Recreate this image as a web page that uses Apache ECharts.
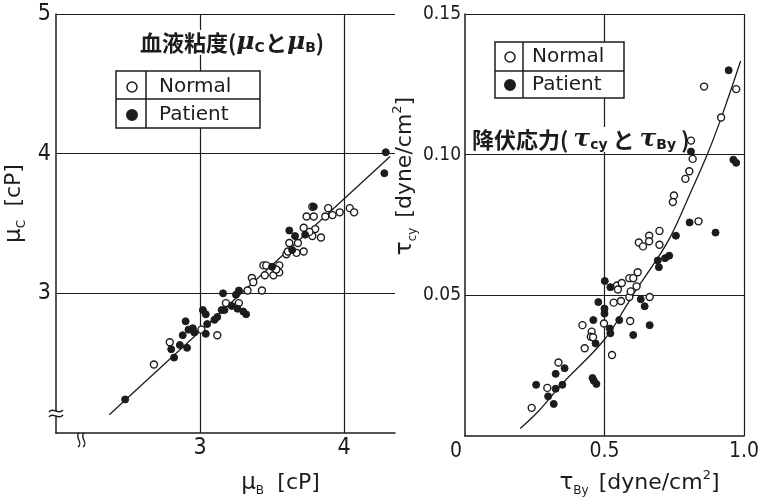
<!DOCTYPE html>
<html><head><meta charset="utf-8">
<script src="https://cdn.jsdelivr.net/npm/echarts@6/dist/echarts.min.js"></script>
<style>html,body{margin:0;padding:0;background:#fff}#c{width:762px;height:502px}</style>
</head><body><div id="c"></div>
<script>
// ---- Left panel: blood viscosity (mu_C vs mu_B) ----
const leftNormalX = [2.68,2.79,3.01,3.12,3.18,3.27,3.33,3.36,3.37,3.43,3.44,3.46,3.45,3.51,3.55,3.55,3.53,3.60,3.62,3.61,3.68,3.67,3.72,3.72,3.74,3.79,3.78,3.78,3.80,3.84,3.87,3.89,3.92,3.97,4.04,4.07,3.76];
const leftNormalY = [2.49,2.65,2.74,2.70,2.93,2.93,3.02,3.11,3.08,3.02,3.20,3.20,3.13,3.13,3.20,3.15,3.17,3.28,3.36,3.30,3.36,3.29,3.30,3.47,3.55,3.55,3.62,3.41,3.46,3.40,3.55,3.61,3.56,3.58,3.61,3.58,3.44];
const leftPatientX = [2.48,2.82,2.80,2.86,2.91,2.88,2.90,2.92,2.95,2.96,3.04,3.05,3.02,3.04,3.10,3.12,3.15,3.17,3.16,3.22,3.25,3.27,3.26,3.30,3.32,3.50,3.62,3.66,3.64,3.73,3.79,4.29,4.28];
const leftPatientY = [2.24,2.54,2.60,2.63,2.61,2.70,2.80,2.74,2.75,2.72,2.71,2.78,2.88,2.85,2.81,2.83,2.88,2.88,3.00,2.91,2.99,3.02,2.89,2.87,2.85,3.19,3.45,3.41,3.31,3.42,3.62,4.01,3.86];
const leftFitX = [2.37, 4.32];
const leftFitY = [2.13, 3.98];
const leftXTicks = [3, 4];
const leftYTicks = [3, 4, 5];

// ---- Right panel: yield stress (tau_cy vs tau_By) ----
const rightNormalX = [0.239,0.295,0.335,0.421,0.429,0.454,0.451,0.459,0.498,0.527,0.533,0.559,0.545,0.548,0.562,0.589,0.603,0.619,0.589,0.594,0.615,0.592,0.662,0.623,0.638,0.660,0.660,0.697,0.697,0.857,0.972,0.918,0.810,0.816,0.804,0.790,0.749,0.745,0.837];
const rightNormalY = [0.0100,0.0171,0.0261,0.0394,0.0312,0.0371,0.0353,0.0351,0.0400,0.0288,0.0474,0.0480,0.0535,0.0521,0.0544,0.0561,0.0561,0.0582,0.0494,0.0514,0.0532,0.0409,0.0494,0.0688,0.0674,0.0712,0.0692,0.0729,0.0680,0.1242,0.1233,0.1132,0.1050,0.0985,0.0941,0.0914,0.0855,0.0832,0.0763];
const rightPatientX = [0.255,0.298,0.318,0.325,0.349,0.325,0.357,0.457,0.462,0.471,0.468,0.460,0.478,0.501,0.500,0.500,0.521,0.521,0.519,0.553,0.603,0.630,0.644,0.662,0.691,0.695,0.717,0.732,0.756,0.805,0.945,0.810,0.962,0.972,0.898];
const rightPatientY = [0.0182,0.0141,0.0114,0.0168,0.0182,0.0221,0.0241,0.0206,0.0196,0.0185,0.0329,0.0412,0.0476,0.0551,0.0453,0.0435,0.0529,0.0365,0.0382,0.0412,0.0359,0.0486,0.0461,0.0394,0.0624,0.0600,0.0632,0.0641,0.0712,0.0759,0.1300,0.1011,0.0982,0.0971,0.0723];
const rightCurveX = [0.198,0.263,0.345,0.500,0.580,0.615,0.685,0.739,0.804,0.869,0.918,0.988];
const rightCurveY = [0.0027,0.0088,0.0182,0.0343,0.0465,0.0522,0.0624,0.0713,0.0855,0.1002,0.1130,0.1333];
const rightXTicks = [0, 0.5, 1.0];
const rightYTicks = [0.05, 0.10, 0.15];

const INK = '#1c1c1c';
const NUM = "'Liberation Sans Narrow','DejaVu Sans Condensed','Liberation Sans',sans-serif";
const TXT = "'DejaVu Sans','Noto Sans',sans-serif";
const CJK = "'Noto Sans CJK JP','Noto Sans CJK SC',sans-serif";

const zip = (xs, ys) => xs.map((x, i) => [x, ys[i]]);
const near = (v, arr) => arr.some(t => Math.abs(t - v) < 1e-9);

const nameRich = {
  g: {fontFamily: TXT, fontSize: 23, color: INK, lineHeight: 28, verticalAlign: 'middle'},
  s: {fontFamily: TXT, fontSize: 12, color: INK, lineHeight: 28, verticalAlign: 'bottom'},
  n: {fontFamily: TXT, fontSize: 22, color: INK, lineHeight: 28, verticalAlign: 'middle'},
  sup: {fontFamily: TXT, fontSize: 13, color: INK, lineHeight: 28, verticalAlign: 'top'}
};

const axisCommon = {
  axisLine: {show: true, lineStyle: {color: INK, width: 1.5}},
  axisTick: {show: false},
  splitLine: {show: true, showMinLine: false, lineStyle: {color: INK, width: 1.2}}
};

const titleRich = {
  t: {fontFamily: CJK, fontWeight: 'bold', fontSize: 22, color: INK},
  mu: {fontFamily: "'DejaVu Serif',serif", fontStyle: 'italic', fontWeight: 'bold', fontSize: 25, color: INK},
  sub: {fontFamily: TXT, fontWeight: 'bold', fontSize: 14, color: INK, verticalAlign: 'bottom', padding: [8, 0, 0, 0]}
};

const symNormal = {color: '#fff', borderColor: INK, borderWidth: 1.4, opacity: 1};
const symPatient = {color: INK, borderColor: INK, borderWidth: 1, opacity: 1};

const legendBase = {
  orient: 'vertical', itemWidth: 10, itemHeight: 10, selectedMode: false, padding: 0,
  data: [
    {name: 'Normal', icon: 'circle', itemStyle: {color: '#fff', borderColor: INK, borderWidth: 1.5, opacity: 1}},
    {name: 'Patient', icon: 'circle', itemStyle: {color: INK, borderColor: INK, opacity: 1}}
  ]
};

const option = {
  backgroundColor: '#fff',
  animation: false,
  title: [
    {left: 138, top: 30, z: 1, backgroundColor: '#fff', padding: [0, 2],
     text: '{t|血液粘度(}{mu|μ}{sub|C}{t|と}{mu|μ}{sub|B}{t|)}',
     textStyle: {rich: titleRich}},
    {left: 470, top: 127, z: 1, backgroundColor: '#fff', padding: [0, 2],
     text: '{t|降伏応力( }{mu|τ}{sub|cy}{t| と }{mu|τ}{sub|By}{t| )}',
     textStyle: {rich: titleRich}}
  ],
  legend: [
    Object.assign({}, legendBase, {left: 126, top: 77, itemGap: 8,
      textStyle: {fontFamily: TXT, fontSize: 20, color: INK, lineHeight: 20, padding: [0, 0, 0, 17]}}),
    Object.assign({}, legendBase, {left: 504, top: 47, itemGap: 8,
      textStyle: {fontFamily: TXT, fontSize: 20, color: INK, lineHeight: 20, padding: [0, 0, 0, 12]}})
  ],
  grid: [
    {left: 56, top: 14, width: 339, height: 426},
    {left: 465, top: 14, width: 284, height: 424}
  ],
  xAxis: [
    Object.assign({}, axisCommon, {
      gridIndex: 0, type: 'value', min: 2, max: 4.354, interval: 1,
      splitLine: {show: true, showMinLine: false, showMaxLine: false, lineStyle: {color: INK, width: 1.2}},
      axisLabel: {margin: 4, showMaxLabel: false, fontFamily: NUM, fontSize: 23, color: INK,
        formatter: v => near(v, leftXTicks) ? String(v) : ''},
      name: '{g|μ}{s|B}    {n|[cP]}', nameLocation: 'middle', nameGap: 36,
      nameTextStyle: {padding: [0, 0, 0, 110], rich: nameRich}
    }),
    Object.assign({}, axisCommon, {
      gridIndex: 1, type: 'value', min: 0, max: 1, interval: 0.5,
      axisLabel: {margin: 5, fontFamily: NUM, fontSize: 21, color: INK,
        formatter: v => near(v, rightXTicks) ? (v === 0 ? '{z|0}' : v.toFixed(1)) : '',
        rich: {z: {fontFamily: NUM, fontSize: 21, color: INK, padding: [0, 18, 0, 0]}}},
      name: '{g|τ}{s|By}   {n|[dyne/cm}{sup|2}{n|]}', nameLocation: 'middle', nameGap: 33,
      nameTextStyle: {padding: [0, 0, 0, 70], rich: nameRich}
    })
  ],
  yAxis: [
    Object.assign({}, axisCommon, {
      gridIndex: 0, type: 'value', min: 2, max: 5, interval: 1,
      axisLabel: {margin: 5, fontFamily: NUM, fontSize: 23, color: INK,
        formatter: v => near(v, leftYTicks) ? String(v) : ''},
      name: '{g|μ}{s|C}    {n|[cP]}', nameLocation: 'middle', nameGap: 28, nameRotate: 90,
      nameTextStyle: {padding: [0, 0, 0, 40], rich: nameRich}
    }),
    Object.assign({}, axisCommon, {
      gridIndex: 1, type: 'value', min: 0, max: 0.15, interval: 0.05,
      axisLabel: {margin: 4, fontFamily: NUM, fontSize: 19, color: INK,
        formatter: v => near(v, rightYTicks) ? v.toFixed(2) : ''},
      name: '{g|τ}{s|cy}   {n|[dyne/cm}{sup|2}{n|]}', nameLocation: 'middle', nameGap: 32, nameRotate: 90,
      nameTextStyle: {padding: [0, 0, 0, 98], rich: nameRich}
    })
  ],
  series: [
    {name: 'Normal', type: 'scatter', xAxisIndex: 0, yAxisIndex: 0, symbol: 'circle', symbolSize: 7,
     itemStyle: symNormal, data: zip(leftNormalX, leftNormalY), z: 3},
    {name: 'Patient', type: 'scatter', xAxisIndex: 0, yAxisIndex: 0, symbol: 'circle', symbolSize: 7,
     itemStyle: symPatient, data: zip(leftPatientX, leftPatientY), z: 3},
    {name: 'fitL', type: 'line', xAxisIndex: 0, yAxisIndex: 0, showSymbol: false, silent: true,
     lineStyle: {color: INK, width: 1.3}, data: zip(leftFitX, leftFitY), z: 2},
    {name: 'Normal', type: 'scatter', xAxisIndex: 1, yAxisIndex: 1, symbol: 'circle', symbolSize: 7,
     itemStyle: symNormal, data: zip(rightNormalX, rightNormalY), z: 3},
    {name: 'Patient', type: 'scatter', xAxisIndex: 1, yAxisIndex: 1, symbol: 'circle', symbolSize: 7,
     itemStyle: symPatient, data: zip(rightPatientX, rightPatientY), z: 3},
    {name: 'fitR', type: 'line', xAxisIndex: 1, yAxisIndex: 1, showSymbol: false, silent: true, smooth: 0.4,
     lineStyle: {color: INK, width: 1.3}, data: zip(rightCurveX, rightCurveY), z: 2}
  ],
  graphic: [
    // legend table (left)
    {type: 'rect', z: 1, shape: {x: 116, y: 71, width: 144, height: 57}, style: {fill: '#fff', stroke: INK, lineWidth: 1.5}},
    {type: 'line', z: 5, shape: {x1: 146, y1: 71, x2: 146, y2: 128}, style: {stroke: INK, lineWidth: 1.5}},
    {type: 'line', z: 5, shape: {x1: 116, y1: 99, x2: 260, y2: 99}, style: {stroke: INK, lineWidth: 1.5}},
    // legend table (right)
    {type: 'rect', z: 1, shape: {x: 495, y: 42, width: 129, height: 56}, style: {fill: '#fff', stroke: INK, lineWidth: 1.5}},
    {type: 'line', z: 5, shape: {x1: 523, y1: 42, x2: 523, y2: 98}, style: {stroke: INK, lineWidth: 1.5}},
    {type: 'line', z: 5, shape: {x1: 495, y1: 71, x2: 624, y2: 71}, style: {stroke: INK, lineWidth: 1.5}},
    // axis break marks (left panel)
    {type: 'rect', z: 10, shape: {x: 52, y: 411, width: 8, height: 5}, style: {fill: '#fff'}},
    {type: 'bezierCurve', z: 11, shape: {x1: 49, y1: 412, cpx1: 53, cpy1: 406, cpx2: 58, cpy2: 416, x2: 63, y2: 410}, style: {stroke: INK, lineWidth: 1.4, fill: null}},
    {type: 'bezierCurve', z: 11, shape: {x1: 49, y1: 417, cpx1: 53, cpy1: 411, cpx2: 58, cpy2: 421, x2: 63, y2: 415}, style: {stroke: INK, lineWidth: 1.4, fill: null}},
    {type: 'rect', z: 10, shape: {x: 78, y: 437, width: 5, height: 6}, style: {fill: '#fff'}},
    {type: 'bezierCurve', z: 11, shape: {x1: 79, y1: 433, cpx1: 74, cpy1: 437, cpx2: 84, cpy2: 443, x2: 78, y2: 447}, style: {stroke: INK, lineWidth: 1.4, fill: null}},
    {type: 'bezierCurve', z: 11, shape: {x1: 84, y1: 433, cpx1: 79, cpy1: 437, cpx2: 89, cpy2: 443, x2: 83, y2: 447}, style: {stroke: INK, lineWidth: 1.4, fill: null}}
  ]
};

const chart = echarts.init(document.getElementById('c'), null, {renderer: 'canvas'});
chart.setOption(option);
</script>
</body></html>
